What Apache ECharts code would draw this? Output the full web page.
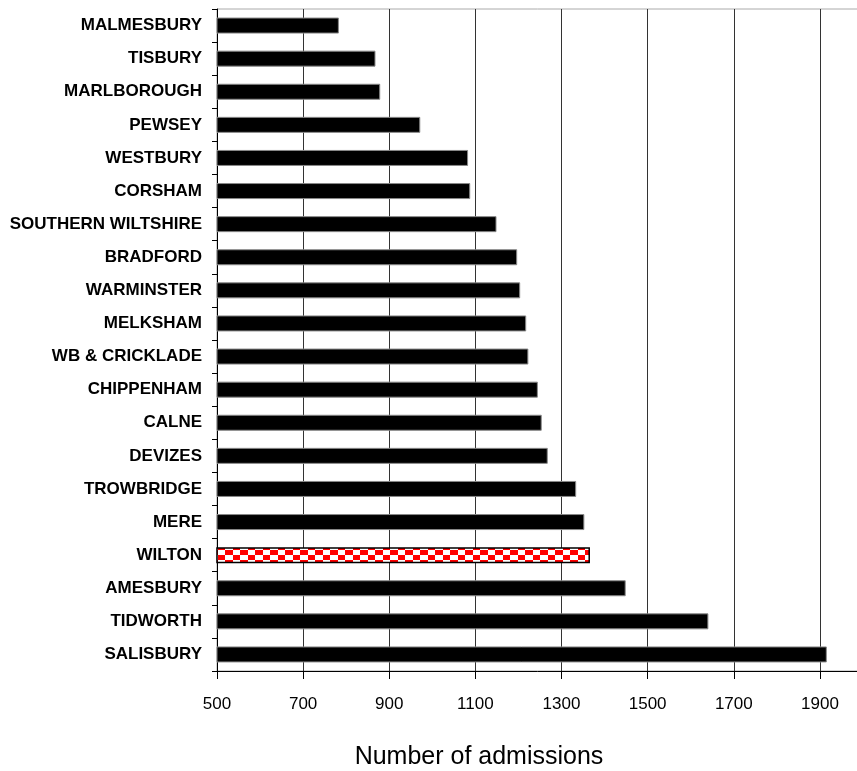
<!DOCTYPE html>
<html>
<head>
<meta charset="utf-8">
<script src="https://cdn.jsdelivr.net/npm/echarts@6/dist/echarts.min.js"></script>
<style>
html,body{margin:0;padding:0;background:#fff;}
#chart{width:857px;height:771px;}
</style>
</head>
<body>
<div id="chart"></div>
<script>
// Categories listed bottom-to-top (ECharts category axis starts at bottom)
const categories = ["SALISBURY","TIDWORTH","AMESBURY","WILTON","MERE","TROWBRIDGE","DEVIZES","CALNE","CHIPPENHAM","WB & CRICKLADE","MELKSHAM","WARMINSTER","BRADFORD","SOUTHERN WILTSHIRE","CORSHAM","WESTBURY","PEWSEY","MARLBOROUGH","TISBURY","MALMESBURY"];
const admissions = [1916,1641,1449,1366,1353,1334,1268,1254,1245,1223,1218,1204,1197,1149,1088,1083,972,879,868,783];
const highlighted = "WILTON";
const axisTitle = "Number of admissions";

function checkerPattern(){
  const c = document.createElement('canvas');
  c.width = 15; c.height = 10;
  const g = c.getContext('2d');
  g.fillStyle = '#ffffff'; g.fillRect(0,0,15,10);
  g.fillStyle = '#ff0000';
  g.fillRect(0,0,8,5);
  g.fillRect(8,5,7,5);
  return {image: c, repeat: 'repeat'};
}

const chart = echarts.init(document.getElementById('chart'), null, {renderer:'canvas'});
const pattern = checkerPattern();
const data = admissions.map((v,i)=> categories[i]===highlighted
  ? {value:v, itemStyle:{color:pattern, borderColor:'#000', borderWidth:1.5}}
  : {value:v});

chart.setOption({
  animation:false,
  backgroundColor:'#fff',
  grid:{left:217, top:9, width:646, height:662, containLabel:false, outerBoundsMode:'none',
        show:true, borderColor:'#aaaaaa', borderWidth:1, backgroundColor:'transparent'},
  xAxis:{
    type:'value', min:500, max:2000, interval:200, position:'bottom',
    axisLine:{show:true, lineStyle:{color:'#000', width:1}},
    axisTick:{show:true, length:8, lineStyle:{color:'#000'}},
    splitLine:{show:true, lineStyle:{color:'#333', width:1}},
    axisLabel:{show:true, margin:25, color:'#000', fontSize:17, fontFamily:'"Liberation Sans", Arial, sans-serif',
               showMaxLabel:false, formatter:(v)=>String(v)},
    name:axisTitle, nameLocation:'middle', nameGap:74,
    nameTextStyle:{color:'#000', fontSize:25, fontFamily:'"Liberation Sans", Arial, sans-serif', padding:[0,122,0,0]}
  },
  yAxis:{
    type:'category', data:categories,
    axisLine:{show:true, lineStyle:{color:'#000', width:1}},
    axisTick:{show:true, length:5, lineStyle:{color:'#000'}},
    axisLabel:{margin:15, color:'#000', fontSize:17, fontWeight:'bold', fontFamily:'"Liberation Sans", Arial, sans-serif'},
    splitLine:{show:false}
  },
  series:[{
    type:'bar', data:data, barWidth:16,
    itemStyle:{color:'#000', borderColor:'#888', borderWidth:1}
  }]
});
</script>
</body>
</html>
